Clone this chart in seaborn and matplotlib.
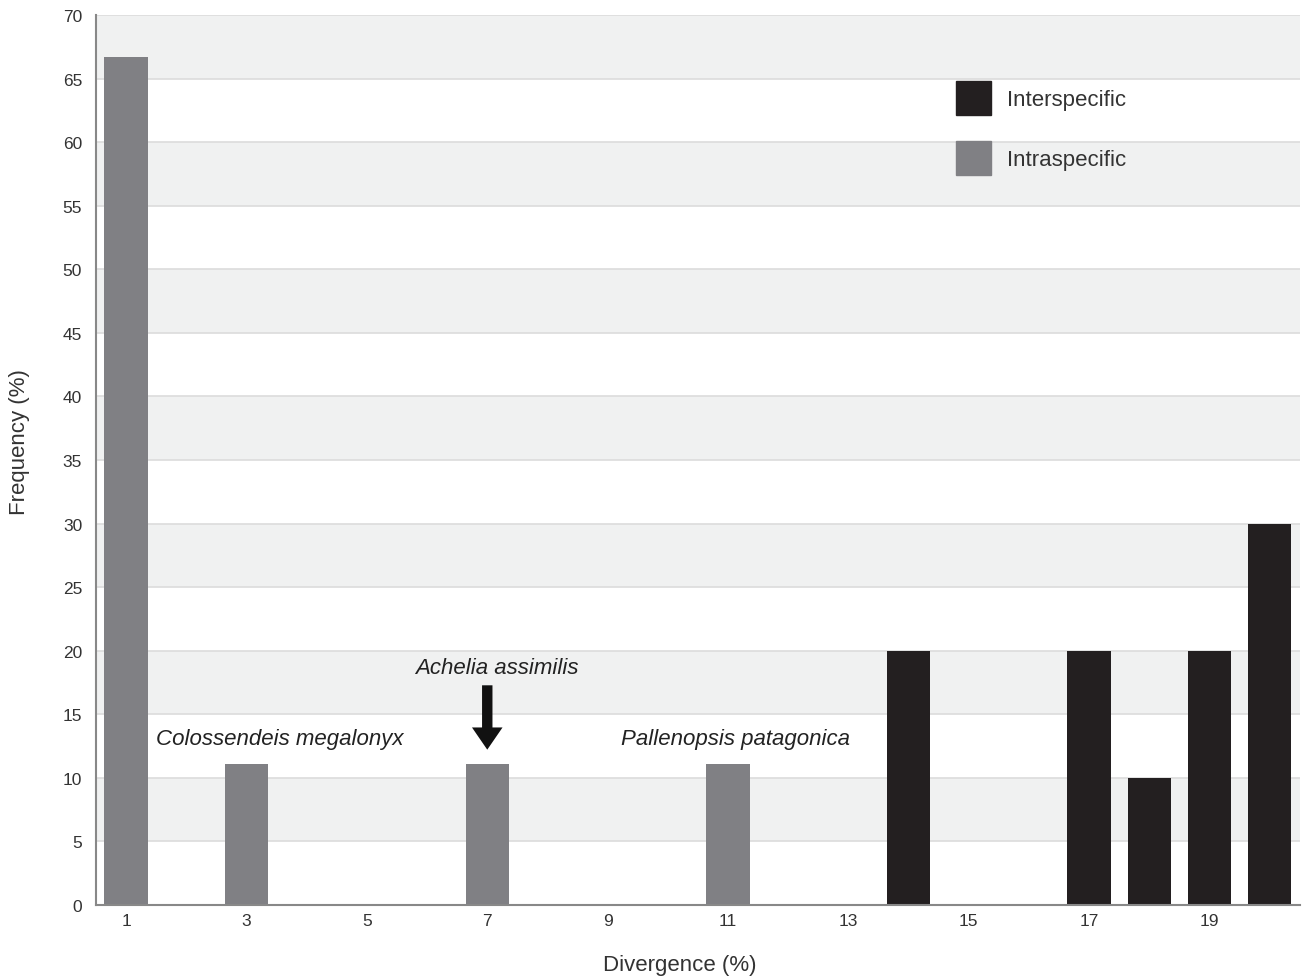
"""
Divergence histogram: intra- vs interspecific distances.
"""

import matplotlib
matplotlib.use('Agg')
import matplotlib.pyplot as plt
from matplotlib.patches import Patch
import numpy as np
import pandas as pd
import seaborn as sns

# Data
divergence = [1, 3, 7, 11, 14, 17, 18, 19, 20]
frequency = [66.7, 11.1, 11.1, 11.1, 20, 20, 10, 20, 30]
group = ['Intraspecific', 'Intraspecific', 'Intraspecific', 'Intraspecific',
         'Interspecific', 'Interspecific', 'Interspecific', 'Interspecific',
         'Interspecific']
x_ticks = [1, 3, 5, 7, 9, 11, 13, 15, 17, 19]
y_ticks = [0, 5, 10, 15, 20, 25, 30, 35, 40, 45, 50, 55, 60, 65, 70]

species_notes = [('Colossendeis megalonyx', 3.56, 13.1),
                 ('Achelia assimilis', 7.16, 18.7),
                 ('Pallenopsis patagonica', 11.12, 13.1)]

colors = {'Interspecific': '#231f20', 'Intraspecific': '#808084'}

df = pd.DataFrame({'divergence': divergence, 'frequency': frequency,
                   'group': group})

sns.set_style('white')
plt.rcParams['font.family'] = ['Liberation Sans', 'DejaVu Sans']


def main():
    fig = plt.figure(figsize=(13.05, 9.78), dpi=100)
    ax = fig.add_axes([0.0736, 0.0736, 0.9224, 0.91])

    # alternating background bands
    for lo in y_ticks[1:-1:2]:
        ax.axhspan(lo, lo + 5, color='#f0f1f1', zorder=0, lw=0)
    for y in y_ticks[1:]:
        ax.axhline(y, color='#dcdcdc', lw=1.2, zorder=0.5)

    sns.barplot(ax=ax, data=df, x='divergence', y='frequency', hue='group',
                palette=colors, native_scale=True, dodge=False, width=0.72,
                saturation=1, legend=False, linewidth=0, zorder=2)

    ax.set_xlim(0.5, 20.5)
    ax.set_ylim(0, 70)
    ax.set_xticks(x_ticks)
    ax.set_yticks(y_ticks)
    ax.tick_params(axis='both', labelsize=12.5, colors='#333333', length=0,
                   pad=6)
    ax.set_xticks(np.arange(1.5, 20.5, 1), minor=True)
    ax.set_yticks(np.arange(0, 70, 1), minor=True)
    ax.tick_params(axis='x', which='minor', direction='in', length=6,
                   color='#888888')
    ax.tick_params(axis='y', which='minor', direction='in', length=4,
                   color='#888888')
    ax.tick_params(axis='y', which='major', direction='out', length=4,
                   color='#888888')
    for s in ['top', 'right']:
        ax.spines[s].set_visible(False)
    for s in ['left', 'bottom']:
        ax.spines[s].set_color('#888888')
        ax.spines[s].set_linewidth(1.5)

    ax.set_xlabel('Divergence (%)', fontsize=16, color='#333333')
    ax.set_ylabel('Frequency (%)', fontsize=16, color='#333333')
    ax.xaxis.set_label_coords(0.485, -0.055)
    ax.yaxis.set_label_coords(-0.055, 0.521)

    for name, x, y in species_notes:
        ax.text(x, y, name, fontsize=16, style='italic', color='#222222',
                ha='center', va='center')
    ax.annotate('', xy=(7, 12.0), xytext=(7, 17.5),
                arrowprops=dict(arrowstyle='simple,head_width=2.2,'
                                'head_length=1.6,tail_width=0.75',
                                color='#111111', lw=0))

    handles = [Patch(color=colors[g], label=g)
               for g in ['Interspecific', 'Intraspecific']]
    ax.legend(handles=handles, loc='upper left',
              bbox_to_anchor=(0.714, 0.926), frameon=False, fontsize=16,
              handlelength=1.58, handleheight=2.0, labelspacing=1.15,
              handletextpad=0.75, borderpad=0, borderaxespad=0,
              labelcolor='#333333')

    fig.savefig('out.png', dpi=100)


if __name__ == '__main__':
    main()
